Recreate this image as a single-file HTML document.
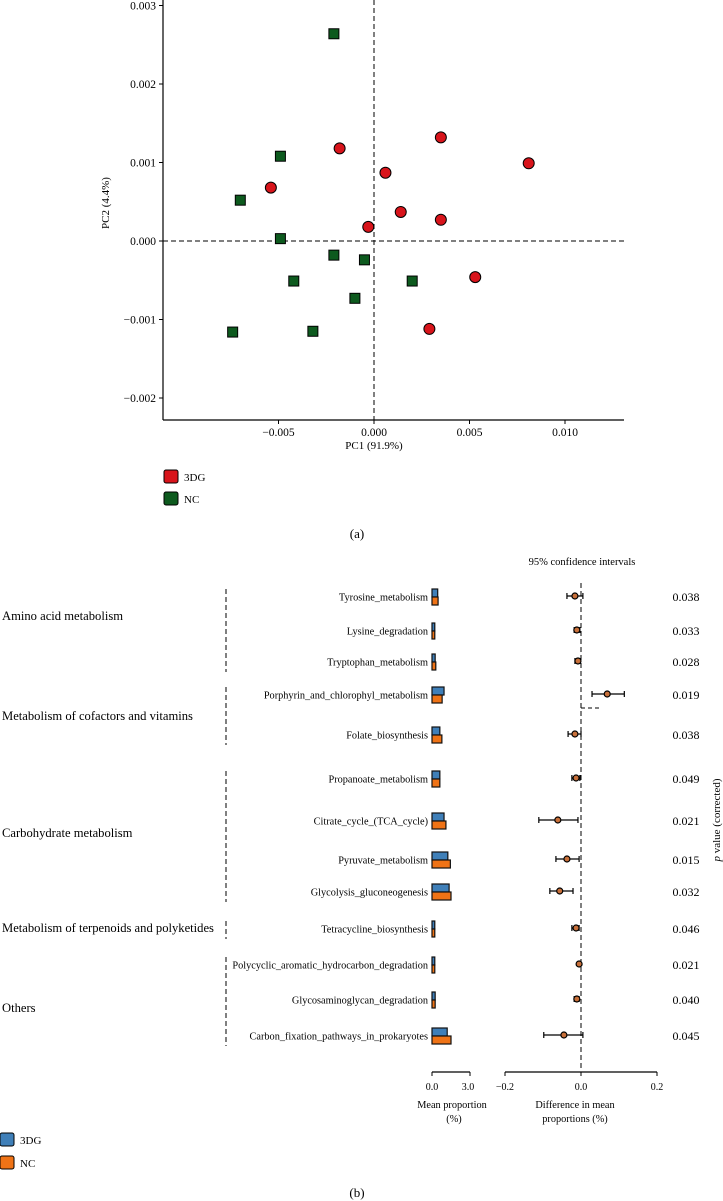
<!DOCTYPE html>
<html><head><meta charset="utf-8"><style>
html,body{margin:0;padding:0;background:#fff}
svg{display:block;font-family:"Liberation Serif",serif}
</style></head><body>
<svg id="fig" width="723" height="1201" viewBox="0 0 723 1201" xmlns="http://www.w3.org/2000/svg">
<g id="pca"></g>
<g id="ext"></g>
</svg>
<script>
// ---- PCA data ----
const ncX = [-0.0021,-0.0049,-0.0070,-0.0049,-0.0021,-0.0005,-0.0042,-0.0010,0.0020,-0.0074,-0.0032];
const ncY = [0.00264,0.00108,0.00052,0.00003,-0.00018,-0.00024,-0.00051,-0.00073,-0.00051,-0.00116,-0.00115];
const dgX = [-0.0018,0.0035,0.0081,-0.0054,0.0006,0.0014,0.0035,-0.0003,0.0053,0.0029];
const dgY = [0.00118,0.00132,0.00099,0.00068,0.00087,0.00037,0.00027,0.00018,-0.00046,-0.00112];
const pcaXTicks = [-0.005,0,0.005,0.010];
const pcaXTickLabels = ["-0.005","0.000","0.005","0.010"];
const pcaYTicks = [0.003,0.002,0.001,0,-0.001,-0.002];
const pcaYTickLabels = ["0.003","0.002","0.001","0.000","-0.001","-0.002"];
// ---- STAMP data ----
const pathways = ["Tyrosine_metabolism","Lysine_degradation","Tryptophan_metabolism","Porphyrin_and_chlorophyl_metabolism","Folate_biosynthesis","Propanoate_metabolism","Citrate_cycle_(TCA_cycle)","Pyruvate_metabolism","Glycolysis_gluconeogenesis","Tetracycline_biosynthesis","Polycyclic_aromatic_hydrocarbon_degradation","Glycosaminoglycan_degradation","Carbon_fixation_pathways_in_prokaryotes"];
const mean3DG = [0.45,0.22,0.25,0.95,0.62,0.62,0.95,1.25,1.35,0.22,0.22,0.25,1.2];
const meanNC = [0.48,0.22,0.3,0.8,0.78,0.62,1.1,1.45,1.5,0.22,0.22,0.25,1.5];
const diffMean = [-0.016,-0.011,-0.008,0.069,-0.016,-0.013,-0.061,-0.037,-0.056,-0.013,-0.005,-0.011,-0.045];
const diffLow = [-0.037,-0.018,-0.016,0.029,-0.034,-0.024,-0.111,-0.066,-0.082,-0.024,-0.008,-0.018,-0.098];
const diffHigh = [0.005,-0.003,-0.003,0.114,0.0,-0.003,-0.008,-0.005,-0.021,-0.005,-0.001,-0.005,0.005];
const pValues = ["0.038","0.033","0.028","0.019","0.038","0.049","0.021","0.015","0.032","0.046","0.021","0.040","0.045"];
const groups = ["Amino acid metabolism","Metabolism of cofactors and vitamins","Carbohydrate metabolism","Metabolism of terpenoids and polyketides","Others"];
const groupStart = [0,3,5,9,10];
const groupEnd = [2,4,8,9,12];

const NS="http://www.w3.org/2000/svg";
function mk(parent,tag,attrs,text){const e=document.createElementNS(NS,tag);for(const k in attrs)e.setAttribute(k,attrs[k]);if(text!==undefined)e.textContent=text;parent.appendChild(e);return e;}

// PCA
const pca=document.getElementById('pca');
const px=v=>374+v/0.001*19.1, py=v=>241-v/0.001*78.5;
const axL=163, axB=420, axR=624;
let e;
e=mk(pca,'line',{x1:axL,y1:0,x2:axL,y2:axB,stroke:'#000','stroke-width':1.2});


e=mk(pca,'line',{x1:axL,y1:axB,x2:axR,y2:axB,stroke:'#000','stroke-width':1.2});


pcaYTicks.forEach((t,i)=>{
  mk(pca,'line',{x1:axL-4,y1:py(t),x2:axL,y2:py(t),stroke:'#000'});
  e=mk(pca,'text',{x:axL-7,y:py(t)+4,'font-size':11.5,'text-anchor':'end'},pcaYTickLabels[i].replace('-','\u2212'));
  
  
});
pcaXTicks.forEach((t,i)=>{
  mk(pca,'line',{x1:px(t),y1:axB,x2:px(t),y2:axB+4,stroke:'#000'});
  e=mk(pca,'text',{x:px(t),y:axB+16,'font-size':11.5,'text-anchor':'middle'},pcaXTickLabels[i].replace('-','\u2212'));
  
  
});
e=mk(pca,'line',{x1:px(0),y1:0,x2:px(0),y2:axB,stroke:'#000','stroke-dasharray':'5,3'});


e=mk(pca,'line',{x1:axL,y1:py(0),x2:axR,y2:py(0),stroke:'#000','stroke-dasharray':'5,3'});


ncX.forEach((x,i)=>{
  e=mk(pca,'rect',{x:px(x)-5,y:py(ncY[i])-5,width:10,height:10,fill:'#0d5a1e',stroke:'#000','stroke-width':1});
  
  
});
dgX.forEach((x,i)=>{
  e=mk(pca,'circle',{cx:px(x),cy:py(dgY[i]),r:5.5,fill:'#d8141b',stroke:'#000','stroke-width':1});
  
  
});
e=mk(pca,'text',{x:374,y:449,'font-size':11,'text-anchor':'middle'},'PC1 (91.9%)');


e=mk(pca,'text',{x:0,y:0,'font-size':11,'text-anchor':'middle',transform:'translate(109,203) rotate(-90)'},'PC2 (4.4%)');


e=mk(pca,'rect',{x:164,y:470,width:14,height:13,rx:2,fill:'#d8141b',stroke:'#000'});


e=mk(pca,'text',{x:184,y:481,'font-size':11},'3DG');


e=mk(pca,'rect',{x:164,y:492,width:14,height:13,rx:2,fill:'#0d5a1e',stroke:'#000'});


e=mk(pca,'text',{x:184,y:503,'font-size':11},'NC');


e=mk(pca,'text',{x:357,y:538,'font-size':13,'text-anchor':'middle'},'(a)');



// STAMP
const ext=document.getElementById('ext');
const rowY=[597,631,662,695,735,779,821,860,892,929,965,1000,1036];
const bx=v=>432+v*12.67;
const dx=v=>581+v*380;
e=mk(ext,'text',{x:582,y:565,'font-size':10.5,'text-anchor':'middle'},'95% confidence intervals');


e=mk(ext,'line',{x1:dx(0),y1:583,x2:dx(0),y2:1068,stroke:'#000','stroke-dasharray':'5,3'});


mk(ext,'line',{x1:dx(0),y1:708,x2:600,y2:708,stroke:'#000','stroke-dasharray':'4,3'});
pathways.forEach((p,i)=>{
  const y=rowY[i];
  e=mk(ext,'text',{x:428,y:y+3.5,'font-size':10.3,'text-anchor':'end'},p);
  
  
  e=mk(ext,'rect',{x:bx(0),y:y-8,width:Math.max(2,bx(mean3DG[i])-bx(0)),height:8,fill:'#3f7fb8',stroke:'#111','stroke-width':1.2});
  
  
  e=mk(ext,'rect',{x:bx(0),y:y,width:Math.max(2,bx(meanNC[i])-bx(0)),height:8,fill:'#ef7316',stroke:'#111','stroke-width':1.2});
  
  
  const cy=y-1;
  e=mk(ext,'line',{x1:dx(diffLow[i]),y1:cy,x2:dx(diffHigh[i]),y2:cy,stroke:'#000','stroke-width':1.2});
  
  
  mk(ext,'line',{x1:dx(diffLow[i]),y1:cy-3,x2:dx(diffLow[i]),y2:cy+3,stroke:'#000','stroke-width':1.2});
  mk(ext,'line',{x1:dx(diffHigh[i]),y1:cy-3,x2:dx(diffHigh[i]),y2:cy+3,stroke:'#000','stroke-width':1.2});
  e=mk(ext,'circle',{cx:dx(diffMean[i]),cy:cy,r:3,fill:'#c8703a',stroke:'#000','stroke-width':1.2});
  
  
  e=mk(ext,'text',{x:686,y:y+4,'font-size':12,'text-anchor':'middle'},pValues[i]);
  
  
});
const groupLabelY=[616,716,833,928,1008];
groups.forEach((g,i)=>{
  e=mk(ext,'text',{x:2,y:groupLabelY[i]+4,'font-size':12.6},g);
  
  
  e=mk(ext,'line',{x1:226,y1:rowY[groupStart[i]]-8,x2:226,y2:rowY[groupEnd[i]]+10,stroke:'#000','stroke-dasharray':'5,3'});
  
  
});
// axes
e=mk(ext,'line',{x1:bx(0),y1:1072,x2:bx(3),y2:1072,stroke:'#000','stroke-width':1.2});


[0,3].forEach(t=>{mk(ext,'line',{x1:bx(t),y1:1072,x2:bx(t),y2:1076,stroke:'#000'});
  e=mk(ext,'text',{x:bx(t)+(t?-2:0),y:1090,'font-size':10,'text-anchor':'middle'},t.toFixed(1));
  
  });
e=mk(ext,'text',{x:452,y:1108,'font-size':10.3,'text-anchor':'middle'},'Mean proportion');


mk(ext,'text',{x:454,y:1122,'font-size':10.3,'text-anchor':'middle'},'(%)');
e=mk(ext,'line',{x1:dx(-0.2),y1:1072,x2:dx(0.2),y2:1072,stroke:'#000','stroke-width':1.2});


[-0.2,0,0.2].forEach(t=>{mk(ext,'line',{x1:dx(t),y1:1072,x2:dx(t),y2:1076,stroke:'#000'});
  e=mk(ext,'text',{x:dx(t),y:1090,'font-size':10,'text-anchor':'middle'},t.toFixed(1).replace('-','\u2212'));
  
  });
e=mk(ext,'text',{x:575,y:1108,'font-size':10.3,'text-anchor':'middle'},'Difference in mean');


mk(ext,'text',{x:575,y:1122,'font-size':10.3,'text-anchor':'middle'},'proportions (%)');
e=mk(ext,'text',{x:0,y:0,'font-size':11,'text-anchor':'middle',transform:'translate(720,820) rotate(-90)'});


mk(e,'tspan',{'font-style':'italic'},'p');
mk(e,'tspan',{},' value (corrected)');
e=mk(ext,'rect',{x:0,y:1133,width:14,height:13,rx:2,fill:'#3f7fb8',stroke:'#000'});


e=mk(ext,'text',{x:20,y:1144,'font-size':11},'3DG');


e=mk(ext,'rect',{x:0,y:1156,width:14,height:13,rx:2,fill:'#ef7316',stroke:'#000'});


e=mk(ext,'text',{x:20,y:1167,'font-size':11},'NC');


e=mk(ext,'text',{x:357,y:1197,'font-size':13,'text-anchor':'middle'},'(b)');


</script>
</body></html>
